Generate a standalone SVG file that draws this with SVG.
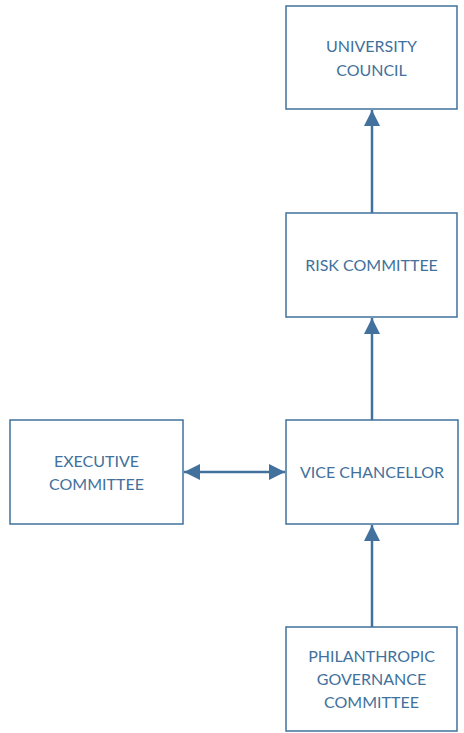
<svg xmlns="http://www.w3.org/2000/svg" width="464" height="733" viewBox="0 0 464 733">
<style>
.box{fill:#fff;stroke:#41719C;stroke-width:1.5}
.t{font-family:Lato,"Open Sans","Liberation Sans",sans-serif;font-size:16px;fill:#41719C;text-anchor:middle}
.c{stroke:#41719C;stroke-width:2.5;fill:none}
</style>
<defs>
<marker id="ah" viewBox="0 0 10 10" refX="10" refY="5" markerWidth="6.5" markerHeight="6.5" orient="auto-start-reverse" markerUnits="strokeWidth">
<path d="M0,0 L10,5 L0,10 z" fill="#41719C"/>
</marker>
</defs>
<rect width="464" height="733" fill="#fff"/>
<g id="connectors">
<line class="c" x1="372" y1="213" x2="372" y2="110" marker-end="url(#ah)"/>
<line class="c" x1="372" y1="420" x2="372" y2="318" marker-end="url(#ah)"/>
<line class="c" x1="372" y1="627" x2="372" y2="525" marker-end="url(#ah)"/>
<line class="c" x1="184" y1="472" x2="285" y2="472" marker-start="url(#ah)" marker-end="url(#ah)"/>
</g>
<g id="university-council">
<rect class="box" x="286" y="6" width="171" height="103"/>
<text class="t" x="371.5" y="52">UNIVERSITY</text>
<text class="t" x="371.5" y="76">COUNCIL</text>
</g>
<g id="risk-committee">
<rect class="box" x="286" y="213" width="171" height="104"/>
<text class="t" x="371.5" y="271">RISK COMMITTEE</text>
</g>
<g id="vice-chancellor">
<rect class="box" x="286" y="420" width="172" height="104"/>
<text class="t" x="372" y="478">VICE CHANCELLOR</text>
</g>
<g id="executive-committee">
<rect class="box" x="10" y="420" width="173" height="104"/>
<text class="t" x="96.5" y="467">EXECUTIVE</text>
<text class="t" x="96.5" y="490">COMMITTEE</text>
</g>
<g id="philanthropic-governance-committee">
<rect class="box" x="286" y="627" width="171" height="104"/>
<text class="t" x="371.5" y="662">PHILANTHROPIC</text>
<text class="t" x="371.5" y="685">GOVERNANCE</text>
<text class="t" x="371.5" y="708">COMMITTEE</text>
</g>
</svg>
